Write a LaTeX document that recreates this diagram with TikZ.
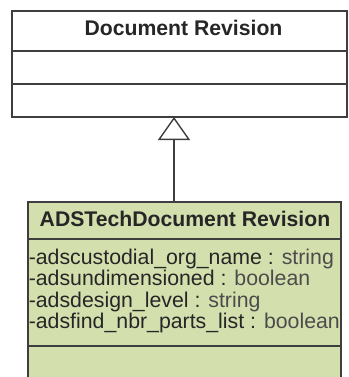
\documentclass[tikz,border=0pt]{standalone}
\usepackage{fontspec}
\setmainfont{Liberation Sans}
\usetikzlibrary{arrows.meta}
\definecolor{classgreen}{RGB}{212,223,174}
\definecolor{linegray}{RGB}{62,62,62}
\tikzset{
  classtitle/.style={font=\fontsize{21.2}{22}\selectfont\bfseries, text=black!85, anchor=base, inner sep=0pt},
  attrline/.style={font=\fontsize{21.3}{22}\selectfont, text=black!85, anchor=base west, inner sep=0pt}
}
\begin{document}
\begin{tikzpicture}[x=1pt, y=-1pt, line width=1.6pt, draw=linegray]
\useasboundingbox (0,0) rectangle (348,377);
\clip (0,0) rectangle (348,377);
% parent class
\draw[fill=white] (12,11) rectangle (347,117);
\draw (12,51) -- (347,51);
\draw (12,84) -- (347,84);
\node[classtitle] (parent) at (183.5,36) {Document Revision};
% child class
\draw[fill=classgreen] (28,202) rectangle (341,395);
\draw (28,239) -- (341,239);
\draw (28,346) -- (341,346);
\node[classtitle] (child) at (185,226) {ADSTechDocument Revision};
\foreach \i/\n/\t in {0/adscustodial\_org\_name/string,
                      1/adsundimensioned/boolean,
                      2/adsdesign\_level/string,
                      3/adsfind\_nbr\_parts\_list/boolean} {
  \node[attrline] (attr\i) at (28,264+21.5*\i) {-\n{} : \textcolor{black!70}{\t}};
}
% generalization
\coordinate (tip) at (174,117);
\coordinate (stem) at (174,202);
\draw[line width=1.4pt, -{Triangle[open, length=23pt, width=32pt]}] (stem) -- (tip);
\end{tikzpicture}
\end{document}
